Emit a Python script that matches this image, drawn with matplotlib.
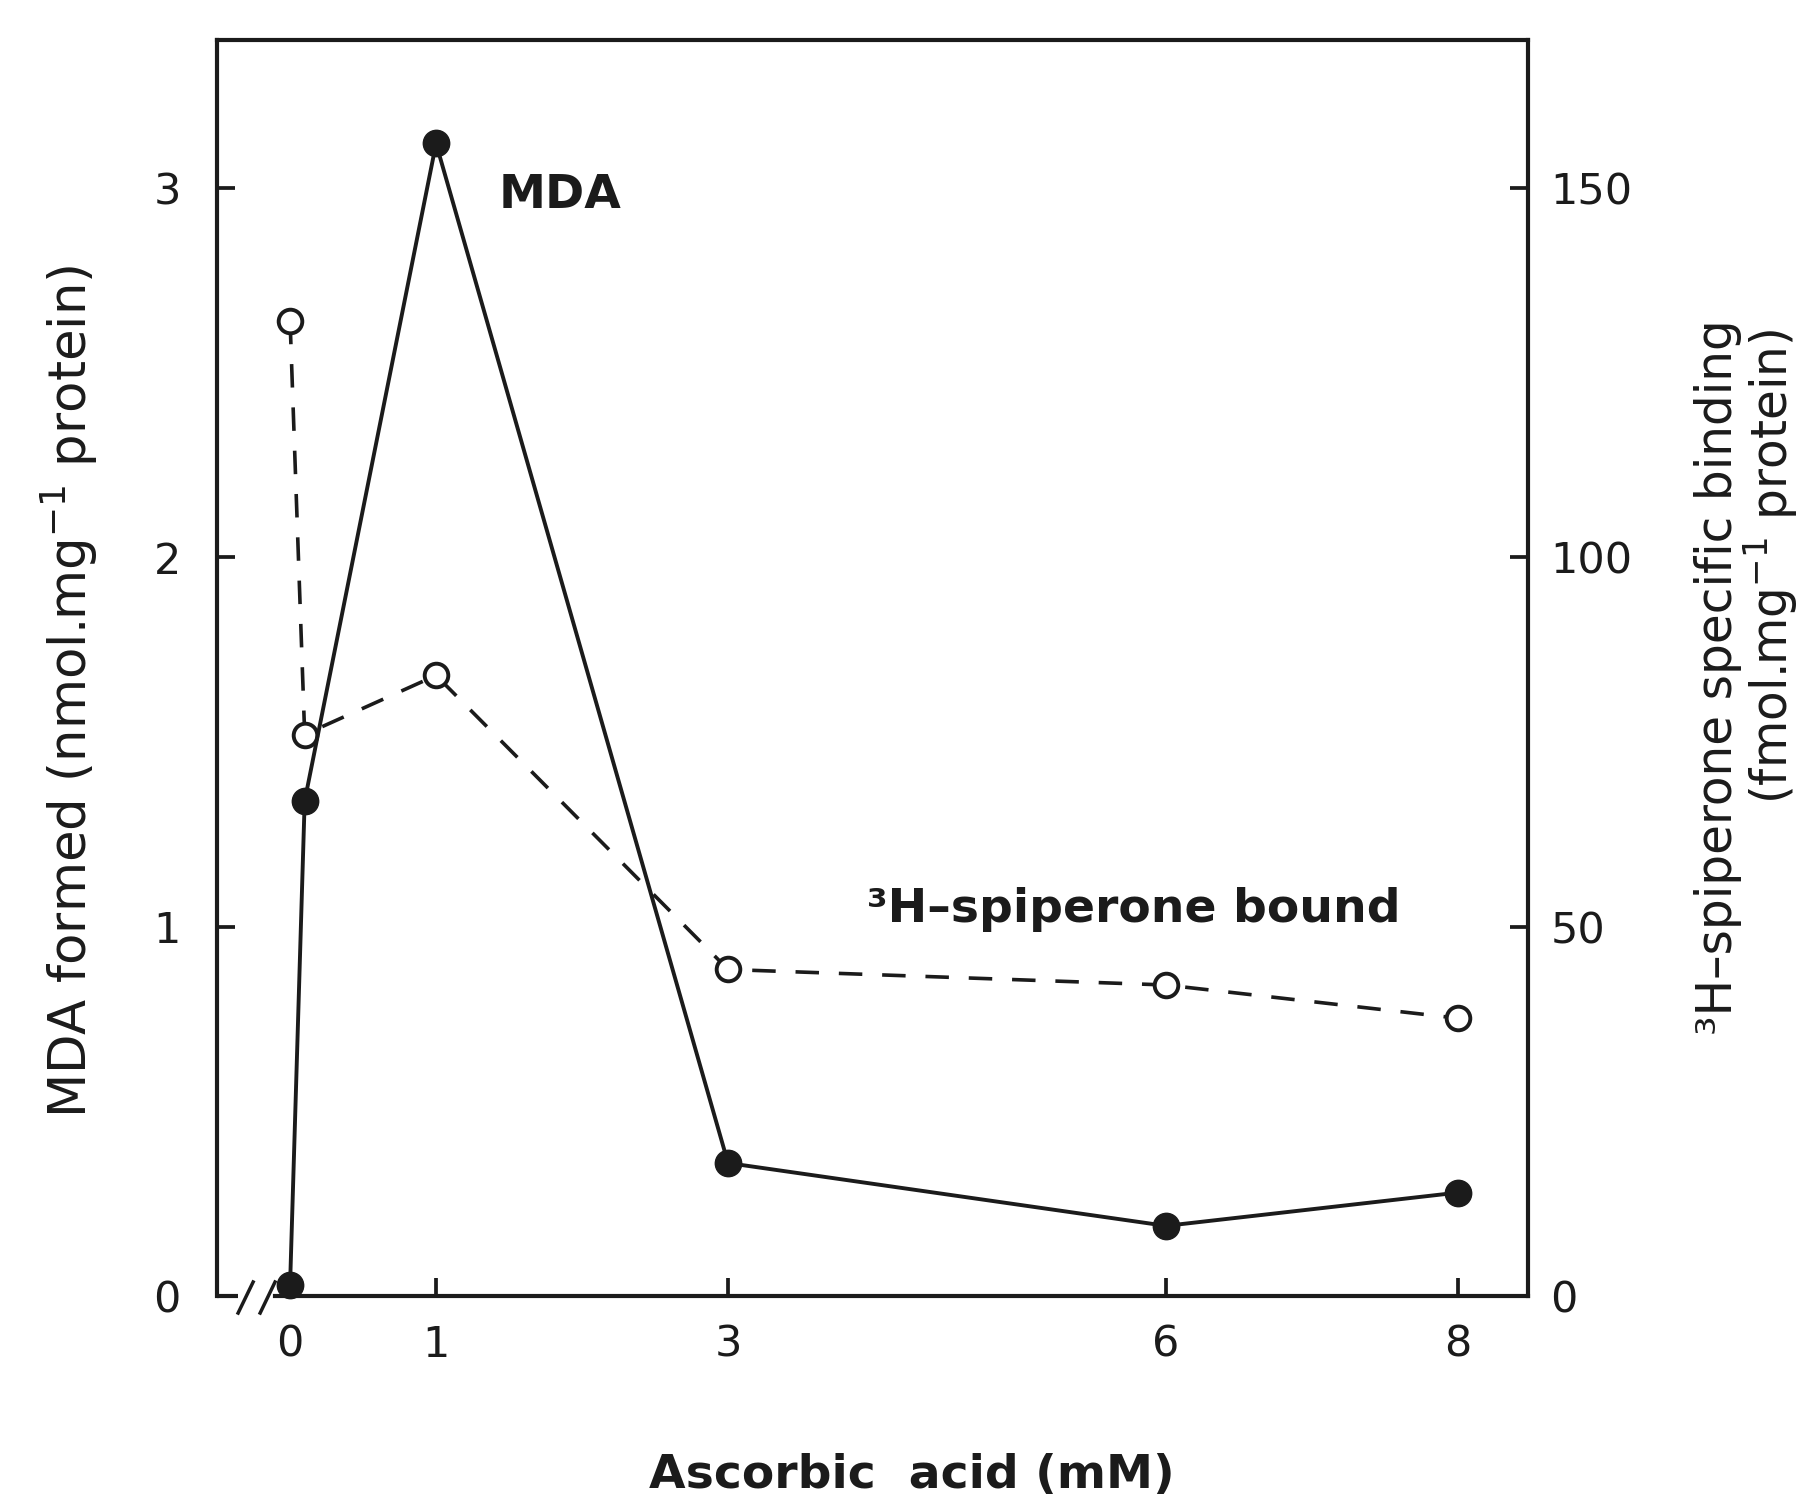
import matplotlib
matplotlib.use("Agg")
import matplotlib.pyplot as plt

plt.rcParams['font.family'] = ['DejaVu Sans']
plt.rcParams['mathtext.fontset'] = 'dejavusans'

# ---- data ----
ascorbic_mda = [0, 0.1, 1, 3, 6, 8]
mda_formed = [0.03, 1.34, 3.12, 0.36, 0.19, 0.28]          # nmol/mg protein (left axis)
ascorbic_spip = [0, 0.1, 1, 3, 6, 8]
spiperone_bound = [132, 76, 84, 44.2, 42.1, 37.6]           # fmol/mg protein (right axis)
x_ticks = [0, 1, 3, 6, 8]
left_ticks = [0, 1, 2, 3]
right_ticks = [0, 50, 100, 150]

INK = '#1b1b1b'
LW = 2.8

fig = plt.figure(figsize=(18.06, 14.99), dpi=100)
ax = fig.add_axes([0.1202, 0.1354, 0.7259, 0.8379])
ax.set_xlim(-0.5, 8.48)
ax.set_ylim(0, 3.40)
ax2 = ax.twinx()
ax2.set_ylim(0, 170)

for a in (ax, ax2):
    for s in a.spines.values():
        s.set_linewidth(3.0)
        s.set_color(INK)
ax2.spines['left'].set_visible(False)
ax2.spines['bottom'].set_visible(False)
ax2.spines['top'].set_visible(False)
ax.spines['right'].set_visible(False)
ax.spines['bottom'].set_bounds(-0.1, 8.48)

# axis-break stub and slashes
ax.plot([0, (-0.36 + 0.5) / 8.98], [0, 0], transform=ax.transAxes, color=INK, lw=3.0,
        clip_on=False, solid_capstyle='butt')
for xa, xb in [(-0.356, -0.253), (-0.205, -0.103)]:
    ax.plot([xa, xb], [-0.046, 0.038], color=INK, lw=2.5, clip_on=False)

ax.set_xticks(x_ticks)
ax.set_xticklabels([str(v) for v in x_ticks])
ax.set_yticks(left_ticks)
ax.set_yticklabels([str(v) for v in left_ticks])
ax2.set_yticks(right_ticks)
ax2.set_yticklabels([str(v) for v in right_ticks])

ax.tick_params(axis='x', direction='in', length=13, width=2.7, color=INK,
               labelsize=31, pad=20, labelcolor=INK)
ax.tick_params(axis='y', direction='in', length=13, width=2.7, color=INK,
               labelsize=31, pad=26, labelcolor=INK)
ax2.tick_params(axis='y', direction='in', length=13, width=2.7, color=INK,
                labelsize=31, pad=16, labelcolor=INK)

# series
ax2.plot(ascorbic_spip, spiperone_bound, linestyle=(0, (6.5, 5.5)), color=INK, lw=2.6,
         marker='o', markersize=17, markerfacecolor='white', markeredgecolor=INK,
         markeredgewidth=2.8, zorder=3, clip_on=False)
ax.set_zorder(ax2.get_zorder() + 1)
ax.patch.set_visible(False)
ax.plot(ascorbic_mda, mda_formed, linestyle='-', color=INK, lw=LW,
        marker='o', markersize=19, markerfacecolor=INK, markeredgecolor=INK,
        zorder=4, clip_on=False)

# annotations
ax.text(1.43, 2.98, 'MDA', fontsize=34, fontweight='bold', color=INK, ha='left', va='center')
ax.text(3.95, 1.046, '\u00b3H\u2013spiperone bound', fontsize=34, fontweight='bold',
        color=INK, ha='left', va='center')

# axis labels
fig.text(0.505, 0.016, 'Ascorbic  acid (mM)', fontsize=34, fontweight='bold', color=INK,
         ha='center', va='center')
fig.text(0.0382, 0.539, 'MDA formed (nmol.mg$^{-1}$ protein)', fontsize=37, color=INK,
         rotation=90, ha='center', va='center')
fig.text(0.9515, 0.787, '\u00b3H\u2013spiperone specific binding', fontsize=35, color=INK,
         rotation=90, rotation_mode='anchor', ha='right', va='center')
fig.text(0.9805, 0.781, '(fmol.mg$^{-1}$ protein)', fontsize=35, color=INK,
         rotation=90, rotation_mode='anchor', ha='right', va='center')

fig.savefig('out.png', dpi=100, facecolor='white')
